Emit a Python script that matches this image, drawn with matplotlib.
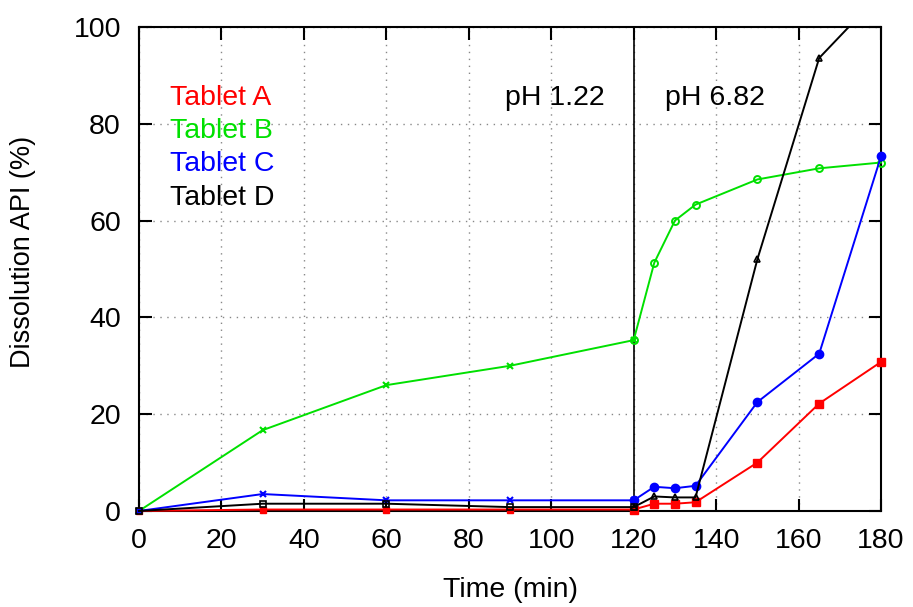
import matplotlib.pyplot as plt

plt.rcParams['font.family'] = ['Liberation Sans', 'DejaVu Sans']

# time points (min)
t_acid = [0, 30, 60, 90, 120]
t_buf = [120, 125, 130, 135, 150, 165, 180]

# dissolution (%) in acid stage and buffer stage
a_acid = [0, 0.3, 0.3, 0.3, 0.3]
a_buf = [0.3, 1.5, 1.5, 1.8, 10.0, 22.2, 30.8]
b_acid = [0, 16.7, 26.0, 30.0, 35.3]
b_buf = [35.3, 51.3, 60.0, 63.3, 68.5, 70.8, 72.0]
c_acid = [0, 3.5, 2.2, 2.2, 2.2]
c_buf = [2.2, 5.0, 4.7, 5.2, 22.5, 32.5, 73.3]
d_acid = [0, 1.5, 1.5, 0.8, 0.8]
d_buf = [0.8, 3.0, 2.8, 2.8, 52.0, 93.6, 107.0]

labels = ['Tablet A', 'Tablet B', 'Tablet C', 'Tablet D']
colors = ['#ff0000', '#00e000', '#0000ff', '#000000']

fig = plt.figure(figsize=(9.13, 6.07), dpi=100)
ax = fig.add_axes([0.1522, 0.1582, 0.8128, 0.7973])

lw = 1.4
ax.plot(t_acid, a_acid, color=colors[0], lw=lw, marker='s', ms=4, clip_on=False, zorder=3)
ax.plot(t_buf, a_buf, color=colors[0], lw=lw, marker='s', ms=6, clip_on=False, zorder=3)
ax.plot(t_acid, b_acid, color=colors[1], lw=lw, marker='x', ms=5, mew=1.5, clip_on=False, zorder=3)
ax.plot(t_buf, b_buf, color=colors[1], lw=lw, marker='o', ms=5, mfc='none', mew=1.4, clip_on=False, zorder=3)
ax.plot(t_acid, c_acid, color=colors[2], lw=lw, marker='x', ms=5, mew=1.5, clip_on=False, zorder=3)
ax.plot(t_buf, c_buf, color=colors[2], lw=lw, marker='o', ms=6, clip_on=False, zorder=3)
ax.plot(t_acid, d_acid, color=colors[3], lw=lw, marker='s', ms=5, mfc='none', mew=1.2, clip_on=False, zorder=3)
ax.plot(t_buf, d_buf, color=colors[3], lw=lw, marker='^', ms=5, mfc='none', mew=1.2, zorder=3)

ax.axvline(120, color='black', lw=1.2)

ax.set_xlim(0, 180)
ax.set_ylim(0, 100)
ax.set_xticks(range(0, 181, 20))
ax.set_yticks(range(0, 101, 20))
ax.grid(True, color='#888888', linestyle=(0, (1, 4)), lw=1.0)
ax.tick_params(direction='in', length=9, width=1.5, top=True, right=True, labelsize=20.5)
ax.tick_params(axis='x', pad=12)
ax.tick_params(axis='y', pad=13)
for s in ax.spines.values():
    s.set_linewidth(1.5)

ax.set_xlabel('Time (min)', fontsize=20.5, va='center')
ax.set_ylabel('Dissolution API (%)', fontsize=19.5, va='center')
ax.xaxis.set_label_coords(0.5, -0.163)
ax.yaxis.set_label_coords(-0.156, 0.535)

for i, (lab, col) in enumerate(zip(labels, colors)):
    ax.text(0.042, 0.853 - i * 0.0685, lab, color=col, fontsize=20.5,
            ha='left', va='center', transform=ax.transAxes)

ax.text(113, 85.3, 'pH 1.22', fontsize=20.5, ha='right', va='center')
ax.text(127.5, 85.3, 'pH 6.82', fontsize=20.5, ha='left', va='center')

fig.savefig('out.png', dpi=100)
